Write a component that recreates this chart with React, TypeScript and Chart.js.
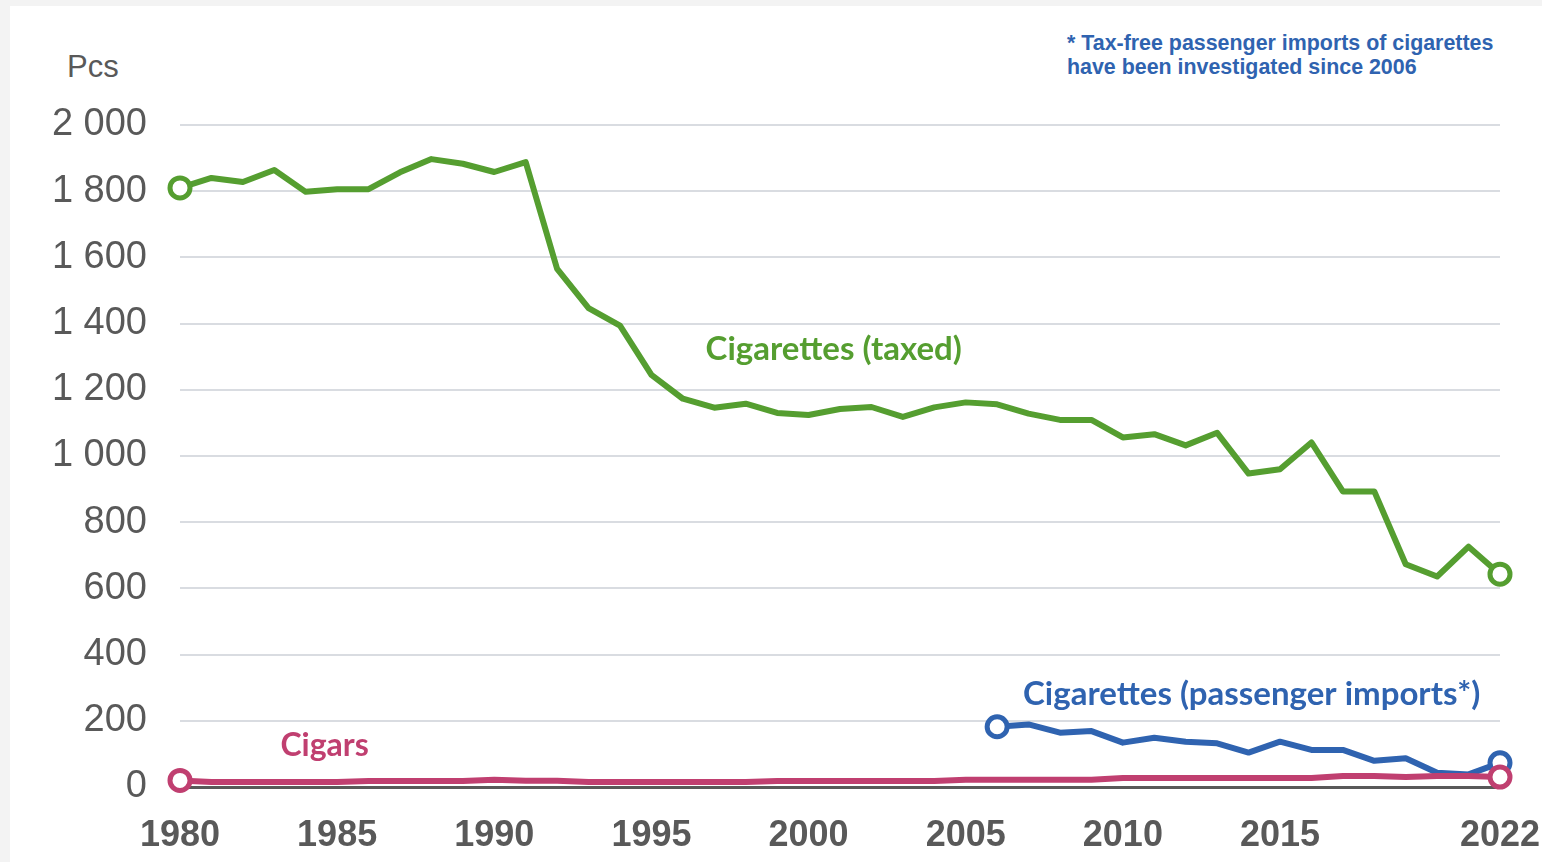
import React, { useEffect, useRef } from "react";
import { Chart, registerables } from "chart.js";

Chart.register(...registerables);

const years = [
  1980, 1981, 1982, 1983, 1984, 1985, 1986, 1987, 1988, 1989,
  1990, 1991, 1992, 1993, 1994, 1995, 1996, 1997, 1998, 1999,
  2000, 2001, 2002, 2003, 2004, 2005, 2006, 2007, 2008, 2009,
  2010, 2011, 2012, 2013, 2014, 2015, 2016, 2017, 2018, 2019,
  2020, 2021, 2022,
];
const xTickYears = [1980, 1985, 1990, 1995, 2000, 2005, 2010, 2015, 2022];
const yTicks = [0, 200, 400, 600, 800, 1000, 1200, 1400, 1600, 1800, 2000];

const taxedCigarettes = [
  1810, 1840, 1828, 1864, 1798, 1806, 1806, 1857, 1897, 1883,
  1858, 1888, 1565, 1447, 1394, 1245, 1173, 1146, 1158, 1130,
  1124, 1142, 1148, 1118, 1147, 1162, 1156, 1128, 1109, 1109,
  1056, 1066, 1032, 1070, 947, 960, 1041, 893, 893, 673,
  636, 726, 643,
];
const importYears = [
  2006, 2007, 2008, 2009, 2010, 2011, 2012, 2013, 2014, 2015,
  2016, 2017, 2018, 2019, 2020, 2021, 2022,
];
const importedCigarettes = [
  182, 189, 164, 169, 134, 149, 137, 132, 104, 137,
  112, 112, 79, 87, 43, 38, 73,
];
const cigars = [
  20, 15, 15, 15, 15, 15, 18, 18, 18, 18,
  22, 19, 19, 15, 15, 15, 15, 15, 15, 18,
  18, 18, 18, 18, 18, 22, 22, 22, 22, 22,
  27, 27, 27, 27, 27, 27, 27, 33, 33, 30,
  33, 33, 30,
];

const GREEN = "#559e30";
const BLUE = "#2f63b0";
const PINK = "#c03f70";
const GREY = "#595959";

const formatThousands = (v: number) =>
  v >= 1000 ? `${Math.floor(v / 1000)} ${String(v % 1000).padStart(3, "0")}` : String(v);

const seriesLabelPlugin = {
  id: "seriesLabels",
  afterDatasetsDraw(chart: any, _args: any, opts: any) {
    const { ctx } = chart;
    const xs = chart.scales.x;
    const ys = chart.scales.y;
    ctx.save();
    for (const item of opts.items || []) {
      ctx.font = item.font;
      ctx.fillStyle = item.color;
      ctx.textAlign = "center";
      ctx.textBaseline = "middle";
      ctx.fillText(item.text, xs.getPixelForValue(item.x), ys.getPixelForValue(item.y));
    }
    ctx.restore();
  },
};

export default function App() {
  const canvasRef = useRef<HTMLCanvasElement | null>(null);

  useEffect(() => {
    document.body.style.margin = "0";
    const canvas = canvasRef.current;
    if (!canvas) return;

    const endpointRadius = (n: number) => (c: any) =>
      c.dataIndex === 0 || c.dataIndex === n - 1 ? 10 : 0;

    const chart = new Chart(canvas, {
      type: "line",
      data: {
        datasets: [
          {
            label: "Cigars",
            data: years.map((yr, i) => ({ x: yr, y: cigars[i] })),
            borderColor: PINK,
            pointBorderColor: PINK,
            pointBackgroundColor: "#ffffff",
            borderWidth: 6,
            pointBorderWidth: 5,
            pointRadius: endpointRadius(cigars.length),
            borderJoinStyle: "round",
            order: 0,
            clip: false,
          },
          {
            label: "Cigarettes (passenger imports*)",
            data: importYears.map((yr, i) => ({ x: yr, y: importedCigarettes[i] })),
            borderColor: BLUE,
            pointBorderColor: BLUE,
            pointBackgroundColor: "#ffffff",
            borderWidth: 6,
            pointBorderWidth: 5,
            pointRadius: endpointRadius(importedCigarettes.length),
            borderJoinStyle: "round",
            order: 1,
            clip: false,
          },
          {
            label: "Cigarettes (taxed)",
            data: years.map((yr, i) => ({ x: yr, y: taxedCigarettes[i] })),
            borderColor: GREEN,
            pointBorderColor: GREEN,
            pointBackgroundColor: "#ffffff",
            borderWidth: 6,
            pointBorderWidth: 5,
            pointRadius: endpointRadius(taxedCigarettes.length),
            borderJoinStyle: "round",
            order: 2,
            clip: false,
          },
        ] as any,
      },
      options: {
        animation: false,
        responsive: false,
        devicePixelRatio: 1,
        layout: { padding: { left: 0, top: 125, right: 42, bottom: 0 } },
        plugins: {
          legend: { display: false },
          tooltip: { enabled: false },
          seriesLabels: {
            items: [
              { text: "Cigarettes (taxed)", x: 2000.8, y: 1322, color: GREEN, font: "bold 33px Lato" },
              { text: "Cigarettes (passenger imports*)", x: 2014.1, y: 281, color: BLUE, font: "bold 33px Lato" },
              { text: "Cigars", x: 1984.6, y: 124, color: PINK, font: "bold 32px Lato" },
            ],
          },
        } as any,
        scales: {
          x: {
            type: "linear",
            min: 1980,
            max: 2022,
            afterBuildTicks: (axis: any) => {
              axis.ticks = xTickYears.map((v) => ({ value: v }));
            },
            afterFit: (s: any) => {
              s.height = 75;
              s.paddingRight = 0;
              s.paddingLeft = 0;
            },
            grid: { display: false },
            border: { display: false },
            ticks: {
              autoSkip: false,
              maxRotation: 0,
              padding: 19,
              color: GREY,
              font: { family: "'Liberation Sans', Arial, sans-serif", size: 36, weight: "bold" },
              callback: (v: any) => String(v),
            },
          },
          y: {
            min: 0,
            max: 2000,
            afterBuildTicks: (axis: any) => {
              axis.ticks = yTicks.map((v) => ({ value: v }));
            },
            afterFit: (s: any) => {
              s.width = 180;
            },
            border: { display: false },
            grid: {
              drawTicks: false,
              color: (c: any) => (c.tick && c.tick.value === 0 ? GREY : "#d9dce1"),
              lineWidth: (c: any) => (c.tick && c.tick.value === 0 ? 3 : 2),
            },
            ticks: {
              padding: 33,
              color: GREY,
              font: { family: "'Liberation Sans', Arial, sans-serif", size: 38 },
              callback: (v: any) => formatThousands(Number(v)),
            },
          },
        },
      } as any,
      plugins: [seriesLabelPlugin as any],
    });

    return () => chart.destroy();
  }, []);

  return (
    <div style={{ position: "relative", width: 1542, height: 862, background: "#f3f3f3", overflow: "hidden" }}>
      <div style={{ position: "absolute", left: 10, top: 6, right: 0, bottom: 0, background: "#ffffff" }} />
      <div
        style={{
          position: "absolute",
          left: 67,
          top: 49,
          fontFamily: "'Liberation Sans', Arial, sans-serif",
          fontSize: 31,
          lineHeight: "36px",
          color: GREY,
        }}
      >
        Pcs
      </div>
      <div
        style={{
          position: "absolute",
          left: 1067,
          top: 31,
          fontFamily: "'Liberation Sans', Arial, sans-serif",
          fontWeight: "bold",
          fontSize: 21.4,
          lineHeight: "24px",
          color: BLUE,
          whiteSpace: "nowrap",
        }}
      >
        * Tax-free passenger imports of cigarettes
        <br />
        have been investigated since 2006
      </div>
      <canvas ref={canvasRef} width={1542} height={862} style={{ position: "absolute", left: 0, top: 0 }} />
    </div>
  );
}
